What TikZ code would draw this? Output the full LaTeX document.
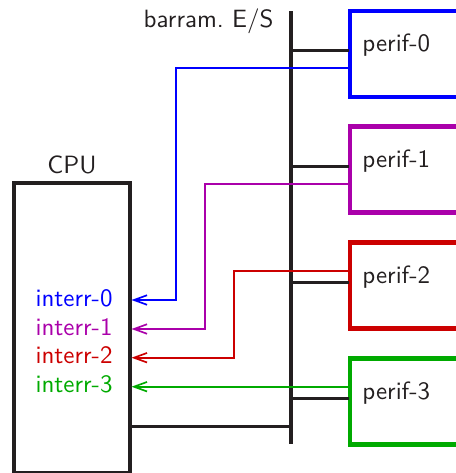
\documentclass[tikz,border=0pt]{standalone}
\usetikzlibrary{arrows.meta}
\definecolor{ink}{RGB}{35,31,32}
\definecolor{cblue}{RGB}{0,0,255}
\definecolor{cmag}{RGB}{170,0,170}
\definecolor{cred}{RGB}{204,0,0}
\definecolor{cgreen}{RGB}{0,170,0}
\begin{document}
\begin{tikzpicture}[x=0.42pt,y=-0.42pt,
  font=\sffamily\fontsize{10.5}{12}\selectfont,
  thickline/.style={draw=ink,line width=1.4pt},
  perifbox/.style={line width=1.75pt},
  wire/.style={line width=0.8pt,-{Straight Barb[length=5.5pt,width=4pt,line width=0.7pt]}},
  lbl/.style={text=ink,inner sep=0pt},
  irq/.style={inner sep=0pt,anchor=base east}]
\useasboundingbox (0,0) rectangle (456,473);
% CPU
\draw[thickline] (14,183) rectangle (130,472.5);
\node[lbl,anchor=base] (cpulbl) at (72,173) {CPU};
% bus
\coordinate (busT) at (291,11);
\coordinate (busB) at (291,444);
\draw[thickline] (busT) -- (busB);
\node[lbl,anchor=base east] (buslbl) at (274,27) {barram.\ E/S};
\draw[thickline] (131,426.7) -- (busB |- 0,426.7);
% peripherals
\foreach \i/\top/\col in {0/10.7/cblue,1/126.5/cmag,2/242.5/cred,3/358.5/cgreen}{
  \draw[perifbox,draw=\col] (456,\top) -- (350,\top) -- (350,\top+86) -- (456,\top+86);
  \node[lbl,anchor=base west] (p\i) at (362,\top+41) {perif-\i};
  \draw[thickline] (busT |- 0,\top+40) -- (349,\top+40);
}
% interrupt labels
\node[irq,text=cblue] (i0) at (113,306) {interr-0};
\node[irq,text=cmag] (i1) at (113,335) {interr-1};
\node[irq,text=cred] (i2) at (113,363.7) {interr-2};
\node[irq,text=cgreen] (i3) at (113,392.7) {interr-3};
% wires
\draw[wire,draw=cblue] (349,68) -- (176,68) -- (176,300) -- (131.5,300);
\draw[wire,draw=cmag] (349,183.7) -- (204.7,183.7) -- (204.7,329) -- (131.5,329);
\draw[wire,draw=cred] (349,271) -- (234.3,271) -- (234.3,357.7) -- (131.5,357.7);
\draw[wire,draw=cgreen] (349,386.7) -- (131.5,386.7);
\end{tikzpicture}
\end{document}
